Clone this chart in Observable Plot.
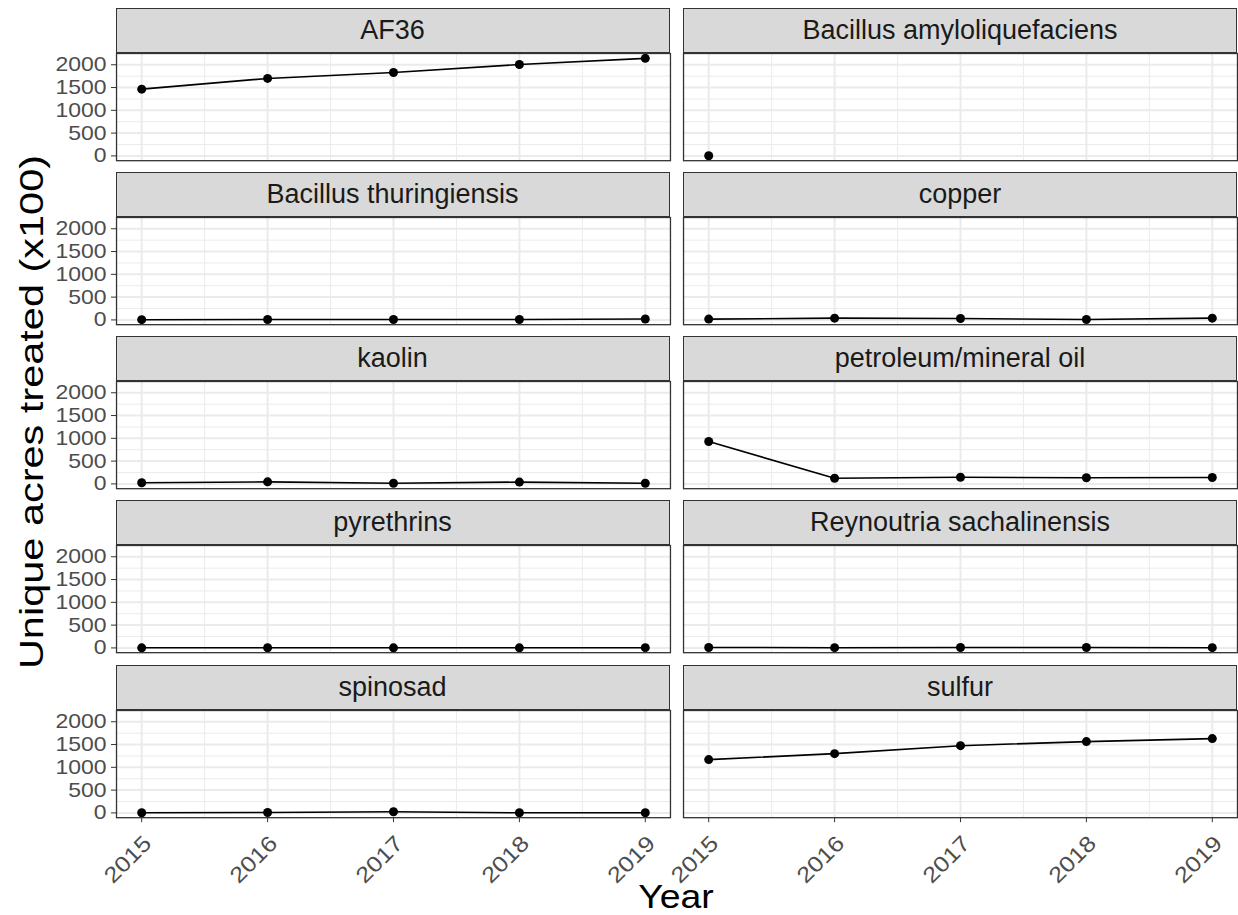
<!DOCTYPE html>
<html><head><meta charset="utf-8">
<script src="https://cdn.jsdelivr.net/npm/d3@7"></script>
<script src="https://cdn.jsdelivr.net/npm/@observablehq/plot@0.6"></script>
<style>
body{margin:0;background:#fff;}
#chart{position:relative;width:1238px;height:915px;font-family:"Liberation Sans",Arial,sans-serif;overflow:hidden;background:#fff}
.strip{position:absolute;box-sizing:border-box;background:#d9d9d9;border:1.3px solid #333;display:flex;align-items:center;justify-content:center;font-size:27px;color:#1a1a1a;white-space:nowrap}
.panel{position:absolute}
.title{position:absolute;color:#000;text-align:center;white-space:nowrap}
</style></head><body><div id="chart"></div>
<script>
// ---- data ----
const years = [2015, 2016, 2017, 2018, 2019];
const products = ["AF36", "Bacillus amyloliquefaciens", "Bacillus thuringiensis", "copper", "kaolin",
  "petroleum/mineral oil", "pyrethrins", "Reynoutria sachalinensis", "spinosad", "sulfur"];
const af36 = [1465, 1700, 1830, 2005, 2140];
const bacillusAmyloliquefaciens = [3, null, null, null, null];
const bacillusThuringiensis = [5, 8, 8, 10, 20];
const copper = [18, 38, 32, 8, 38];
const kaolin = [25, 45, 15, 40, 15];
const petroleumMineralOil = [930, 125, 145, 135, 140];
const pyrethrins = [2, 3, 2, 2, 5];
const reynoutriaSachalinensis = [10, 5, 8, 10, 5];
const spinosad = [3, 8, 25, 3, 3];
const sulfur = [1170, 1300, 1475, 1565, 1630];
const seriesValues = [af36, bacillusAmyloliquefaciens, bacillusThuringiensis, copper, kaolin,
  petroleumMineralOil, pyrethrins, reynoutriaSachalinensis, spinosad, sulfur];
const yTicks = [0, 500, 1000, 1500, 2000];
const yMinorTicks = [250, 750, 1250, 1750];
const xMinorTicks = [2015.5, 2016.5, 2017.5, 2018.5];
const yTitle = "Unique acres treated (x100)";
const xTitle = "Year";

// ---- build table ----
const table = [];
products.forEach((p, i) => years.forEach((y, j) => {
  const v = seriesValues[i][j];
  if (v != null) table.push({product: p, year: y, value: v});
}));

// ggplot-style 5% expansion
const [vmin, vmax] = d3.extent(table, d => d.value);
const pad = (vmax - vmin) * 0.05;
const yDomain = [vmin - pad, vmax + pad];
const xPad = (d3.max(years) - d3.min(years)) * 0.05;
const xDomain = [d3.min(years) - xPad, d3.max(years) + xPad];

// ---- layout ----
const chart = document.getElementById("chart");
const colLeft = [115.5, 683];
const panelW = 554;
const rowPitch = 164.2;
const stripTop0 = 7.8, stripH = 45;
const panelTop0 = stripTop0 + stripH, panelH = 107.2;
const font = '"Liberation Sans", Arial, sans-serif';
const svgs = [];

products.forEach((p, i) => {
  const r = Math.floor(i / 2), c = i % 2;
  const left = colLeft[c];
  const stripTop = stripTop0 + r * rowPitch;
  const panelTop = panelTop0 + r * rowPitch;

  const strip = document.createElement("div");
  strip.className = "strip";
  strip.style.left = left + "px";
  strip.style.top = stripTop + "px";
  strip.style.width = panelW + "px";
  strip.style.height = stripH + "px";
  strip.textContent = p;
  chart.appendChild(strip);

  const ml = c === 0 ? 70 : 1, mr = 1, mt = 1, mb = r === 4 ? 80 : 1;
  const data = table.filter(d => d.product === p);
  const marks = [
    Plot.gridY(yMinorTicks, {stroke: "#ebebeb", strokeOpacity: 1, strokeWidth: 1}),
    Plot.gridX(xMinorTicks, {stroke: "#ebebeb", strokeOpacity: 1, strokeWidth: 1}),
    Plot.gridY(yTicks, {stroke: "#ebebeb", strokeOpacity: 1, strokeWidth: 2}),
    Plot.gridX(years, {stroke: "#ebebeb", strokeOpacity: 1, strokeWidth: 2}),
    Plot.line(data, {x: "year", y: "value", stroke: "black", strokeWidth: 1.6}),
    Plot.dot(data, {x: "year", y: "value", fill: "black", r: 4.5}),
    Plot.frame({stroke: "#333333", strokeWidth: 1.3})
  ];
  if (c === 0) {
    marks.push(Plot.axisY(yTicks, {tickSize: 5, tickPadding: 5, stroke: "#333333", fill: "#4d4d4d",
      label: null, fontSize: 20, tickFormat: d => String(d)}));
  }
  if (r === 4) {
    marks.push(Plot.axisX(years, {tickSize: 5, stroke: "#333333", fill: "none", label: null}));
    marks.push(Plot.axisX(years, {tickSize: 5, tickPadding: 11, stroke: "none", fill: "#4d4d4d",
      label: null, fontSize: 22, tickRotate: -45, textAnchor: "end", lineAnchor: "top", dx: 0,
      tickFormat: d => String(d)}));
  }
  const svg = Plot.plot({
    width: panelW + ml + mr,
    height: panelH + mt + mb,
    marginLeft: ml, marginRight: mr, marginTop: mt, marginBottom: mb,
    x: {domain: xDomain, axis: null},
    y: {domain: yDomain, axis: null},
    style: {fontFamily: font, fontSize: "20px", background: "transparent", overflow: "visible"},
    marks
  });
  svg.classList.add("panel");
  svg.style.left = (left - ml) + "px";
  svg.style.top = (panelTop - mt) + "px";
  chart.appendChild(svg);
  svgs.push(svg);
});

// widen tick-label glyphs along the text direction (reference font renders wide)
svgs.forEach(svg => {
  svg.querySelectorAll('g[aria-label="y-axis tick label"] text, g[aria-label="x-axis tick label"] text').forEach(t => {
    const L = t.getComputedTextLength();
    if (L > 0) {
      t.setAttribute("textLength", (L * 1.15).toFixed(2));
      t.setAttribute("lengthAdjust", "spacingAndGlyphs");
    }
  });
});

// axis titles
const panelsTop = stripTop0, panelsBottom = panelTop0 + 4 * rowPitch + panelH;
const yt = document.createElement("div");
yt.className = "title";
yt.textContent = yTitle;
yt.style.fontSize = "34px";
yt.style.height = "40px";
yt.style.lineHeight = "40px";
yt.style.width = "700px";
yt.style.left = (31 - 350) + "px";
yt.style.top = ((panelsTop + panelsBottom) / 2 - 20) + "px";
yt.style.transform = "rotate(-90deg) scaleX(1.22)";
chart.appendChild(yt);

const xt = document.createElement("div");
xt.className = "title";
xt.textContent = xTitle;
xt.style.fontSize = "34px";
xt.style.height = "34px";
xt.style.lineHeight = "34px";
xt.style.width = "400px";
xt.style.left = ((colLeft[0] + colLeft[1] + panelW) / 2 - 200) + "px";
xt.style.top = "879px";
xt.style.transform = "scaleX(1.1)";
chart.appendChild(xt);
</script></body></html>
